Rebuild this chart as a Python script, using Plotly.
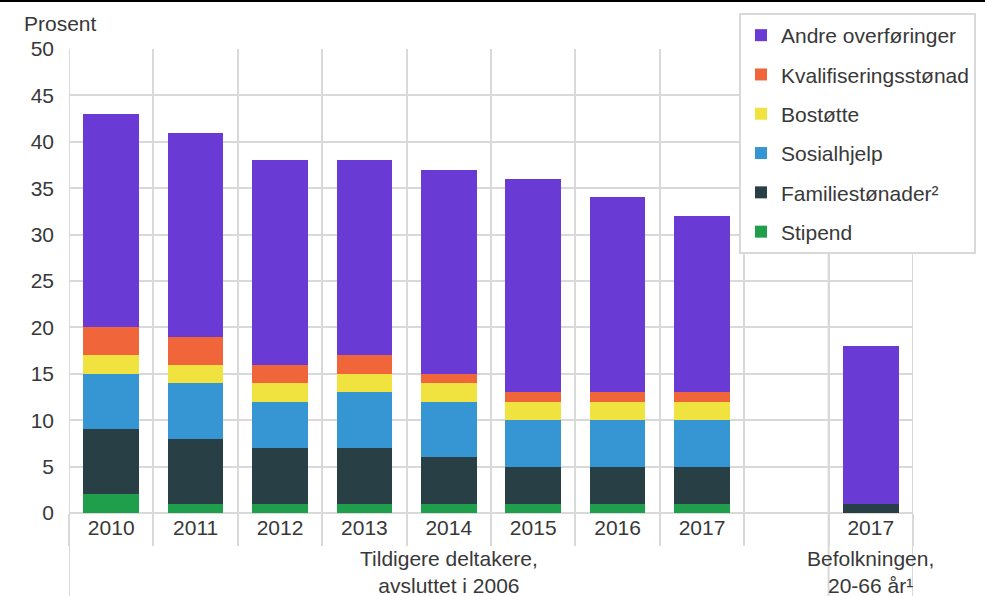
import plotly.graph_objects as go

# Categories (slot ids) and displayed tick labels
categories = ["2010", "2011", "2012", "2013", "2014", "2015", "2016", "2017", "gap", "Bef2017"]
tick_labels = ["2010", "2011", "2012", "2013", "2014", "2015", "2016", "2017", "", "2017"]

# Series values (percent), gap slot empty
stipend = [2, 1, 1, 1, 1, 1, 1, 1, None, 0]
familiestonader = [7, 7, 6, 6, 5, 4, 4, 4, None, 1]
sosialhjelp = [6, 6, 5, 6, 6, 5, 5, 5, None, 0]
bostotte = [2, 2, 2, 2, 2, 2, 2, 2, None, 0]
kvalifisering = [3, 3, 2, 2, 1, 1, 1, 1, None, 0]
andre = [23, 22, 22, 21, 22, 23, 21, 19, None, 17]

series = [
    ("Stipend", stipend, "#1f9e4b"),
    ("Familiestønader²", familiestonader, "#283f46"),
    ("Sosialhjelp", sosialhjelp, "#3596d3"),
    ("Bostøtte", bostotte, "#f0e340"),
    ("Kvalifiseringsstønad", kvalifisering, "#f1653a"),
    ("Andre overføringer", andre, "#6a3bd4"),
]

FONT = "Liberation Sans, Arial, sans-serif"
TXT = "#383838"
GRID = "#d9d9d9"

fig = go.Figure()
n = len(series)
for i, (name, vals, col) in enumerate(series):
    fig.add_trace(go.Bar(
        x=categories, y=vals, name=name, legendgroup=f"g{i}", legendrank=n - i,
        marker=dict(color=col, line=dict(width=0)), width=0.66,
    ))

fig.update_layout(
    barmode="stack",
    width=985, height=596,
    margin=dict(l=69, r=72, t=49, b=83, autoexpand=False),
    plot_bgcolor="white", paper_bgcolor="white",
    font=dict(family=FONT, size=21, color=TXT),
    showlegend=True,
    legend=dict(
        x=(739 - 69) / 844, y=(513 - 13) / 464, xanchor="left", yanchor="top",
        bordercolor=GRID, borderwidth=2, bgcolor="white",
        traceorder="grouped", tracegroupgap=9,
        font=dict(size=21, color=TXT),
    ),
    xaxis=dict(
        type="category", categoryorder="array", categoryarray=categories,
        tickvals=categories, ticktext=tick_labels,
        range=[-0.5, 9.5], tickson="boundaries",
        showgrid=True, gridcolor=GRID, gridwidth=2,
        ticks="outside", ticklen=32, tickcolor=GRID, tickwidth=2,
        showline=False, zeroline=False,
        tickfont=dict(size=21, color=TXT),
    ),
    yaxis=dict(
        range=[0, 50], dtick=5, tick0=0,
        showgrid=True, gridcolor=GRID, gridwidth=2,
        zeroline=True, zerolinecolor=GRID, zerolinewidth=2,
        showline=False, ticks="", ticklabelstandoff=14,
        tickfont=dict(size=21, color=TXT),
    ),
)

# divider lines (group separators) reaching the bottom
for xv in [-0.5, 8.5, 9.5]:
    fig.add_shape(type="line", xref="x", yref="paper", x0=xv, x1=xv,
                  y0=-83 / 464, y1=1, line=dict(color=GRID, width=2), layer="below")

# top black rule
fig.add_shape(type="line", xref="paper", yref="paper",
              x0=-69 / 844, x1=1 + 72 / 844, y0=1 + 48 / 464, y1=1 + 48 / 464,
              line=dict(color="black", width=2))

fig.add_annotation(text="Prosent", xref="paper", yref="paper",
                   x=(22 - 69) / 844, y=(513 - 10) / 464, xanchor="left", yanchor="top",
                   showarrow=False, font=dict(size=21, color=TXT))
fig.add_annotation(text="Tildigere deltakere,<br>avsluttet i 2006", xref="x", yref="paper",
                   x=4, y=(513 - 545) / 464, xanchor="center", yanchor="top",
                   showarrow=False, font=dict(size=21, color=TXT))
fig.add_annotation(text="Befolkningen,<br>20-66 år¹", xref="x", yref="paper",
                   x=9, y=(513 - 545) / 464, xanchor="center", yanchor="top",
                   showarrow=False, font=dict(size=21, color=TXT))

fig.write_html("out.html", config={"displayModeBar": False},
               post_script="document.body.style.margin='0';")
